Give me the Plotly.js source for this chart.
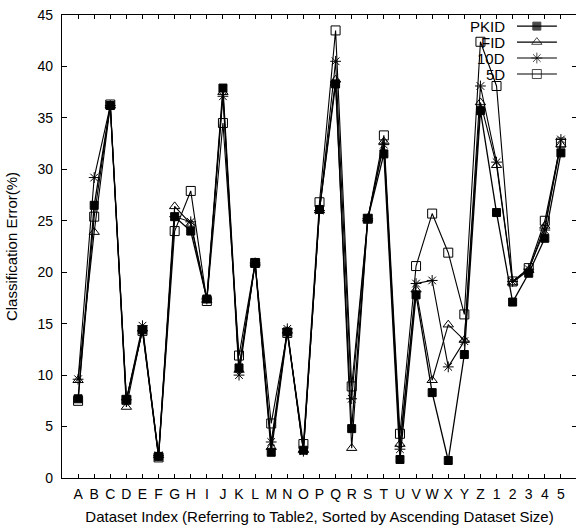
<!DOCTYPE html>
<html>
<head>
<meta charset="utf-8">
<script src="https://cdn.plot.ly/plotly-3.0.1.min.js"></script>
<style>
html,body{margin:0;padding:0;overflow:hidden;background:#fff;}
#chart{width:578px;height:525px;}
</style>
</head>
<body>
<div id="chart"></div>
<script>
const categories = ["A","B","C","D","E","F","G","H","I","J","K","L","M","N","O","P","Q","R","S","T","U","V","W","X","Y","Z","1","2","3","4","5"];
const pkid = [7.7,26.5,36.2,7.6,14.4,2.1,25.4,24.0,17.4,37.9,10.7,20.9,2.5,14.2,2.7,26.1,38.3,4.8,25.2,31.5,1.8,17.8,8.3,1.7,12.0,35.7,25.8,17.1,19.9,23.3,31.6];
const fid  = [9.5,23.9,36.2,6.9,14.5,2.2,26.4,24.7,17.3,37.5,10.5,20.9,3.0,14.3,2.7,26.0,38.7,2.9,25.2,32.7,3.3,18.3,9.5,14.9,13.4,36.5,30.4,19.0,20.2,24.5,32.4];
const d10  = [9.6,29.2,36.2,7.6,14.8,2.2,25.4,24.9,17.4,37.1,10.0,20.9,3.5,14.5,2.6,26.0,40.5,7.7,25.2,32.4,2.8,18.9,19.2,10.8,13.3,38.1,30.7,19.1,20.3,24.1,32.9];
const d5   = [7.5,25.4,36.3,7.6,14.3,2.0,24.0,27.9,17.2,34.5,11.9,20.9,5.3,14.1,3.3,26.8,43.5,8.9,25.2,33.3,4.3,20.6,25.7,21.9,15.9,42.4,38.1,19.1,20.4,25.0,32.6];
const seriesNames = ["PKID","FID","10D","5D"];
const yTicks = [0,5,10,15,20,25,30,35,40,45];

const FONT = "Liberation Sans, Arial, Helvetica, sans-serif";
const styles = {
  "PKID": {symbol:"square", size:8, color:"#000", lw:1.3},
  "FID":  {symbol:"triangle-up-open", size:9, color:"#000", lw:1.1},
  "10D":  {symbol:"asterisk-open", size:9, color:"#000", lw:1.1},
  "5D":   {symbol:"square-open", size:9, color:"#000", lw:1.1}
};
const seriesData = {"PKID":pkid, "FID":fid, "10D":d10, "5D":d5};

const traces = [];
["5D","10D","FID","PKID"].forEach(n => {
  const s = styles[n];
  traces.push({
    type:"scatter", mode:"lines+markers", name:n, x:categories, y:seriesData[n],
    line:{color:"#000", width:s.lw},
    marker:{symbol:s.symbol, size:s.size, color:s.color, line:{color:"#000", width:1}},
    showlegend:false, cliponaxis:false
  });
});

// custom legend (text left of sample), on an overlay axis in paper units
const legX0 = 0.8835, legXm = 0.922, legX1 = 0.961, legTextX = 0.864;
const legRows = [0.976, 0.9415, 0.907, 0.8725];
const annotations = [];
seriesNames.forEach((n,i) => {
  const s = styles[n];
  traces.push({
    type:"scatter", mode:"lines+markers", xaxis:"x2", yaxis:"y2",
    x:[legX0, legXm, legX1], y:[legRows[i],legRows[i],legRows[i]],
    line:{color:"#000", width:1.1},
    marker:{symbol:s.symbol, size:[0,s.size,0], color:s.color, line:{color:"#000", width:1}},
    showlegend:false, hoverinfo:"skip"
  });
  annotations.push({
    xref:"paper", yref:"paper", x:legTextX, y:legRows[i], xanchor:"right", yanchor:"middle",
    text:n, showarrow:false, font:{family:FONT, size:15, color:"#000"}
  });
});

const layout = {
  width:578, height:525,
  margin:{l:62, r:1, t:15, b:47},
  paper_bgcolor:"#fff", plot_bgcolor:"#fff",
  font:{family:FONT, color:"#000", size:14},
  showlegend:false,
  xaxis:{
    type:"category", categoryorder:"array", categoryarray:categories,
    tickmode:"array", tickvals:categories, ticktext:categories,
    range:[-1, 31], showgrid:false, zeroline:false,
    showline:true, linecolor:"#000", linewidth:1.2, mirror:"ticks",
    ticks:"inside", ticklen:4, tickwidth:1, tickcolor:"#000",
    ticklabelstandoff:3,
    tickfont:{family:FONT, size:14, color:"#000"},
    title:{text:"Dataset Index (Referring to Table2, Sorted by Ascending Dataset Size)", font:{family:FONT, size:15, color:"#000"}, standoff:12}
  },
  yaxis:{
    range:[0,45], tickvals:yTicks, showgrid:false, zeroline:false,
    showline:true, linecolor:"#000", linewidth:1.2, mirror:"ticks",
    ticks:"inside", ticklen:5, tickwidth:1, tickcolor:"#000",
    ticklabelstandoff:5,
    tickfont:{family:FONT, size:14, color:"#000"},
    title:{text:"Classification Error(%)", font:{family:FONT, size:15, color:"#000"}, standoff:16}
  },
  xaxis2:{overlaying:"x", range:[0,1], visible:false, fixedrange:true},
  yaxis2:{overlaying:"y", range:[0,1], visible:false, fixedrange:true},
  annotations:annotations
};

Plotly.newPlot("chart", traces, layout, {displayModeBar:false, staticPlot:true});
</script>
</body>
</html>
